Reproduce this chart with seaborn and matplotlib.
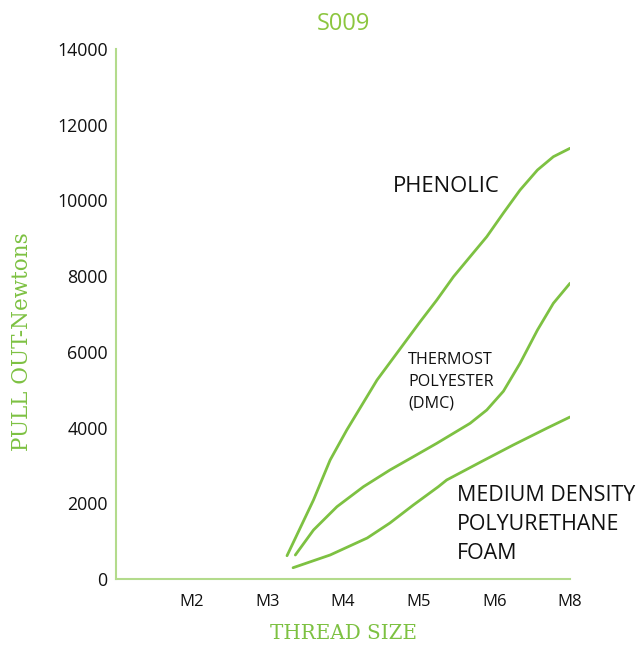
import matplotlib
matplotlib.use("Agg")
import matplotlib.pyplot as plt
import seaborn as sns
import pandas as pd

# Category ticks (position index -> label)
tick_positions = [1, 2, 3, 4, 5, 6]
tick_labels = ["M2", "M3", "M4", "M5", "M6", "M8"]

# Curves (x in category-position units, y in Newtons)
phenolic_x = [2.26, 2.61, 2.83, 3.05, 3.45, 4.02, 4.24, 4.46, 4.68, 4.90,
              5.12, 5.34, 5.57, 5.78, 6.0]
phenolic_y = [615, 2087, 3143, 3936, 5257, 6797, 7370, 7985, 8514, 9042,
              9668, 10275, 10804, 11155, 11377]

thermost_x = [2.37, 2.61, 2.92, 3.27, 3.62, 3.93, 4.24, 4.46, 4.68,
              4.90, 5.12, 5.34, 5.57, 5.78, 6.0]
thermost_y = [634, 1294, 1910, 2438, 2879, 3231, 3585, 3849, 4113,
              4464, 4960, 5698, 6577, 7283, 7811]

foam_x = [2.34, 2.83, 3.32, 3.62, 3.93, 4.26, 4.37, 4.82, 5.25, 5.70, 6.0]
foam_y = [298, 634, 1083, 1479, 1955, 2438, 2615, 3091, 3540, 3989, 4279]

series_names = ["PHENOLIC", "THERMOST", "FOAM"]

frames = []
for name, xs, ys in zip(series_names,
                        [phenolic_x, thermost_x, foam_x],
                        [phenolic_y, thermost_y, foam_y]):
    frames.append(pd.DataFrame({"x": xs, "y": ys, "series": name}))
df = pd.concat(frames, ignore_index=True)

sns.set_style("white")
plt.rcParams["font.family"] = ["Open Sans", "DejaVu Sans"]

GREEN = "#7dc142"
AXIS_GREEN = "#b3db8c"
TITLE_GREEN = "#8cc63f"
TEXT = "#111111"

fig = plt.figure(figsize=(6.38, 6.51), dpi=100)
ax = fig.add_axes([116 / 638, 1 - 579 / 651, (570 - 116) / 638, (579 - 49) / 651])

sns.lineplot(data=df, x="x", y="y", hue="series", units="series",
             estimator=None, sort=False,
             palette={n: GREEN for n in series_names},
             linewidth=2.0, legend=False, ax=ax)

ax.set_xlim(0, 6)
ax.set_ylim(0, 14000)
ax.set_xticks(tick_positions)
ax.set_xticklabels(tick_labels)
ax.set_yticks(range(0, 14001, 2000))
ax.tick_params(axis="both", length=0, colors=TEXT)
ax.tick_params(axis="x", pad=11, labelsize=12)
ax.tick_params(axis="y", pad=6, labelsize=12.8)

for s in ["top", "right"]:
    ax.spines[s].set_visible(False)
for s in ["left", "bottom"]:
    ax.spines[s].set_color(AXIS_GREEN)
    ax.spines[s].set_linewidth(1.5)
ax.grid(False)

ax.set_title("S009", color=TITLE_GREEN, fontsize=17, pad=14)
ax.set_xlabel("THREAD SIZE", color=GREEN, fontsize=14.3,
              family=["DejaVu Serif"], labelpad=10)
ax.set_ylabel("PULL OUT-Newtons", color=GREEN, fontsize=15.5,
              family=["DejaVu Serif"])
ax.yaxis.set_label_coords(-0.183, 0.448)

ax.text(3.66, 10355, "PHENOLIC", fontsize=15.8, va="center", ha="left",
        color=TEXT)
ax.text(3.86, 5200, "THERMOST\nPOLYESTER\n(DMC)", fontsize=11.6, va="center",
        ha="left", color=TEXT, linespacing=1.48)
ax.text(4.50, 1440, "MEDIUM DENSITY\nPOLYURETHANE\nFOAM", fontsize=15.4,
        va="center", ha="left", color=TEXT, linespacing=1.5,
        clip_on=False)

fig.savefig("out.png", dpi=100)
